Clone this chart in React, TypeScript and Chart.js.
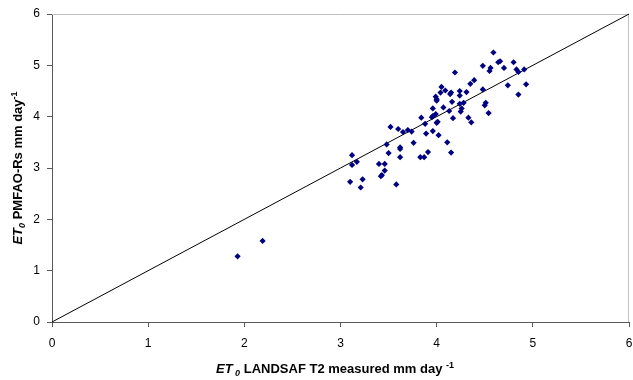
import { useEffect, useRef } from "react";
import { Chart, registerables } from "chart.js";

Chart.register(...registerables);

// ET0 LANDSAF T2 measured (x) vs ET0 PMFAO-Rs (y), mm day-1
const xMeasured = [
  1.93, 2.19, 3.1, 3.12, 3.12, 3.17, 3.23, 3.21, 3.4, 3.46, 3.46, 3.42, 3.43, 3.5, 3.58, 3.62,
  3.48, 3.52, 3.6, 3.62, 3.62, 3.65, 3.7, 3.74, 3.76, 3.83, 3.87, 3.91, 3.89, 3.84, 3.88, 3.96,
  3.96, 3.95, 3.96, 3.99, 4.0, 4.01, 4.02, 4.11, 4.15, 3.99, 4.0, 4.0, 4.05, 4.04, 4.09, 4.07,
  4.13, 4.15, 4.14, 4.16, 4.17, 4.19, 4.24, 4.24, 4.24, 4.26, 4.25, 4.28, 4.31, 4.33, 4.36, 4.35,
  4.39, 4.48, 4.48, 4.5, 4.51, 4.54, 4.55, 4.56, 4.59, 4.64, 4.66, 4.7, 4.8, 4.74, 4.83, 4.85,
  4.91, 4.93, 4.85,
];
const yPmfao = [
  1.28, 1.58, 2.73, 3.25, 3.06, 3.12, 2.78, 2.62, 3.08, 3.08, 2.95, 2.84, 2.86, 3.29, 2.68, 3.21,
  3.46, 3.8, 3.76, 3.4, 3.37, 3.7, 3.74, 3.71, 3.49, 3.21, 3.21, 3.31, 3.67, 3.98, 3.86, 3.72,
  4.16, 3.99, 4.01, 4.05, 3.88, 3.9, 3.64, 3.5, 3.3, 4.39, 4.31, 4.34, 4.58, 4.47, 4.51, 4.18,
  4.11, 4.47, 4.44, 4.29, 3.97, 4.86, 4.5, 4.41, 4.25, 4.16, 4.1, 4.27, 4.48, 3.98, 3.89, 4.64,
  4.71, 4.99, 4.53, 4.22, 4.27, 4.07, 4.89, 4.95, 5.25, 5.06, 5.08, 4.95, 5.06, 4.61, 4.92, 4.87,
  4.92, 4.63, 4.43,
];
// 1:1 line
const lineX = [0, 6];
const lineY = [0, 6];
const axisMin = 0;
const axisMax = 6;
const axisStep = 1;

const FONT = '"Liberation Sans", Arial, Helvetica, sans-serif';

type Part = { text: string; style: string; size: number; dy: number };

const xTitleParts: Part[] = [
  { text: "ET", style: "italic bold", size: 13, dy: 0 },
  { text: " 0", style: "italic bold", size: 9, dy: 3 },
  { text: " LANDSAF T2 measured mm day ", style: "bold", size: 13, dy: 0 },
  { text: "-1", style: "bold", size: 9, dy: -5 },
];
const yTitleParts: Part[] = [
  { text: "ET", style: "italic bold", size: 13, dy: 0 },
  { text: "0", style: "italic bold", size: 9, dy: 3 },
  { text: " PMFAO-Rs mm day", style: "bold", size: 13, dy: 0 },
  { text: "-1", style: "bold", size: 9, dy: -5 },
];

function drawRich(ctx: CanvasRenderingContext2D, parts: Part[], cx: number, cy: number, angle: number) {
  ctx.save();
  ctx.translate(cx, cy);
  ctx.rotate(angle);
  ctx.textBaseline = "alphabetic";
  ctx.textAlign = "left";
  ctx.fillStyle = "#000";
  let total = 0;
  const widths = parts.map((p) => {
    ctx.font = `${p.style} ${p.size}px ${FONT}`;
    const w = ctx.measureText(p.text).width;
    total += w;
    return w;
  });
  let x = -total / 2;
  parts.forEach((p, i) => {
    ctx.font = `${p.style} ${p.size}px ${FONT}`;
    ctx.fillText(p.text, x, p.dy);
    x += widths[i];
  });
  ctx.restore();
}

const decorPlugin = {
  id: "decor",
  beforeDatasetsDraw(chart: any) {
    const { ctx, chartArea } = chart;
    ctx.save();
    ctx.strokeStyle = "#c0c0c0";
    ctx.lineWidth = 1;
    ctx.beginPath();
    const t = Math.round(chartArea.top) + 0.5;
    const r = Math.round(chartArea.right) - 0.5;
    ctx.moveTo(chartArea.left, t);
    ctx.lineTo(r, t);
    ctx.lineTo(r, chartArea.bottom);
    ctx.stroke();
    ctx.restore();
  },
  afterDraw(chart: any) {
    const { ctx, chartArea } = chart;
    drawRich(ctx, xTitleParts, 335, 373, 0);
    drawRich(ctx, yTitleParts, 22, (chartArea.top + chartArea.bottom) / 2, -Math.PI / 2);
  },
};

export default function App() {
  const ref = useRef<HTMLCanvasElement | null>(null);

  useEffect(() => {
    if (!ref.current) return;
    const points = xMeasured.map((x, i) => ({ x, y: yPmfao[i] }));
    const line = lineX.map((x, i) => ({ x, y: lineY[i] }));
    const axisColor = "#595959";
    const chart = new Chart(ref.current, {
      type: "scatter",
      data: {
        datasets: [
          {
            type: "scatter",
            data: points,
            pointStyle: "rectRot",
            pointRadius: 3.1,
            pointBackgroundColor: "#000080",
            pointBorderColor: "#000080",
            pointBorderWidth: 0,
            order: 0,
          } as any,
          {
            type: "line",
            data: line,
            borderColor: "#000",
            borderWidth: 1,
            pointRadius: 0,
            showLine: true,
            fill: false,
            order: 1,
            clip: false,
          } as any,
        ],
      },
      options: {
        animation: false,
        responsive: false,
        events: [],
        layout: { padding: { top: 14, right: 4, left: 0, bottom: 0 } },
        plugins: {
          legend: { display: false },
          tooltip: { enabled: false },
          title: { display: false },
        },
        scales: {
          x: {
            type: "linear",
            min: axisMin,
            max: axisMax,
            ticks: {
              stepSize: axisStep,
              color: "#000",
              padding: 9,
              maxRotation: 0,
              font: { family: FONT, size: 12 },
            },
            grid: {
              display: true,
              drawOnChartArea: false,
              drawTicks: true,
              tickLength: 5,
              color: axisColor,
            },
            border: { display: true, color: axisColor, width: 1 },
            afterFit: (s: any) => {
              s.height = 58;
              s.paddingLeft = 0;
              s.paddingRight = 0;
            },
          },
          y: {
            type: "linear",
            min: axisMin,
            max: axisMax,
            ticks: {
              stepSize: axisStep,
              color: "#000",
              padding: 7,
              font: { family: FONT, size: 12 },
            },
            grid: {
              display: true,
              drawOnChartArea: false,
              drawTicks: true,
              tickLength: 5,
              color: axisColor,
            },
            border: { display: true, color: axisColor, width: 1 },
            afterFit: (s: any) => {
              s.width = 52;
              s.paddingTop = 0;
              s.paddingBottom = 0;
            },
          },
        },
      },
      plugins: [decorPlugin],
    });
    return () => chart.destroy();
  }, []);

  return (
    <div style={{ position: "fixed", left: 0, top: 0, width: 633, height: 380, background: "#fff" }}>
      <canvas ref={ref} width={633} height={380} style={{ display: "block", width: 633, height: 380 }} />
    </div>
  );
}
